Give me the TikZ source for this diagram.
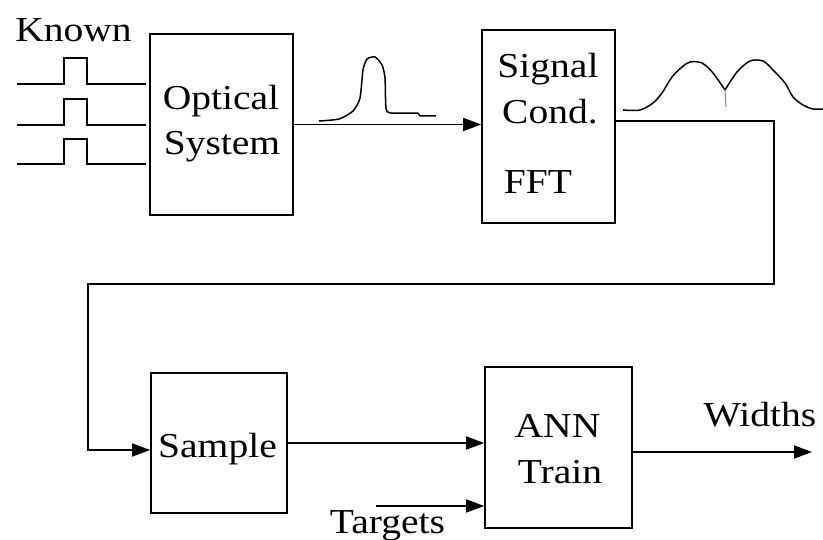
\documentclass[tikz,border=0pt]{standalone}
\usepackage{fontspec}
\setmainfont{Liberation Serif}[FakeStretch=1.13]
\usetikzlibrary{arrows.meta}

\begin{document}
\begin{tikzpicture}[x=1pt, y=-1pt, line width=1.6pt]
  \tikzset{
    block/.style={rectangle, draw, line width=1.6pt, inner sep=0pt},
    label_text/.style={anchor=base, inner sep=0pt, font=\fontsize{35}{40}\selectfont},
    flow/.style={-{Triangle[length=18pt, width=13pt]}},
    wave/.style={line width=1.5pt, line join=round}
  }

  % Bounding box del diagrama
  \useasboundingbox (0,0) rectangle (823,540);

  % Bloques
  \node[block, minimum width=143pt, minimum height=181pt] (optical) at (221.5,124.5) {};
  \node[block, minimum width=133pt, minimum height=193pt] (signal) at (548.5,126.5) {};
  \node[block, minimum width=136pt, minimum height=140pt] (sample) at (219,443) {};
  \node[block, minimum width=147pt, minimum height=161pt] (ann) at (558.5,447.5) {};

  % Textos de los bloques
  \node[label_text] (known) at (73.5,42) {Known};
  \node[label_text] (opt_a) at (221,110) {Optical};
  \node[label_text] (opt_b) at (222,155) {System};
  \node[label_text] (sig_a) at (548,78) {Signal};
  \node[label_text] (sig_b) at (550,124) {Cond.};
  \node[label_text] (sig_c) at (538,194) {FFT};
  \node[label_text] (samp) at (217.5,457) {Sample};
  \node[label_text] (ann_a) at (557.5,438) {ANN};
  \node[label_text] (ann_b) at (560,483) {Train};
  \node[label_text] (widths) at (760,427) {Widths};
  \node[label_text] (targets) at (387.5,533) {Targets};

  % Pulsos conocidos de entrada
  \foreach \y/\h in {84/58, 125/99, 164/139} {
    \draw (17,\y) -- (64,\y) -- (64,\h) -- (87,\h) -- (87,\y) -- (146,\y);
  }

  % Puntos auxiliares
  \coordinate (turn_a) at (774,121);
  \coordinate (turn_b) at (774,284);
  \coordinate (turn_c) at (88,284);
  \coordinate (turn_d) at (88,450);
  \coordinate (tgt_start) at (376,506);
  \coordinate (out_end) at (812,452);

  % Conexiones
  \draw[flow] (optical.east) -- (optical.east -| signal.west);
  \draw[flow] (signal.east |- turn_a) -- (turn_a) -- (turn_b) -- (turn_c) -- (turn_d) -- (sample.west |- turn_d);
  \draw[flow] (sample.east) -- (sample.east -| ann.west);
  \draw[flow] (tgt_start) -- (tgt_start -| ann.west);
  \draw[flow] (ann.east |- out_end) -- (out_end);

  % Señal tras el sistema óptico
  \draw[wave] plot[smooth, tension=0.4] coordinates {
    (319,121) (339,119) (353,111) (360,98) (363,70) (367,59) (375,57)
    (382,65) (385,78) (386,108) (391,113) (418,113)};
  \draw[wave] (418,113) -- (420,116) -- (436,116);

  % Espectro tras el acondicionamiento
  \draw[wave] plot[smooth, tension=0.5] coordinates {
    (623,110) (640,110) (653,103) (662,93) (672,77) (682,67) (690,62) (702,63)
    (713,73) (725,90)};
  \draw[wave] plot[smooth, tension=0.5] coordinates {
    (725,90) (737,72) (750,61) (763,61) (773,70) (785,83) (793,97) (803,105)
    (813,109) (823,109)};
  \draw[gray, line width=1pt] (725,90) -- (726,107);
\end{tikzpicture}
\end{document}
